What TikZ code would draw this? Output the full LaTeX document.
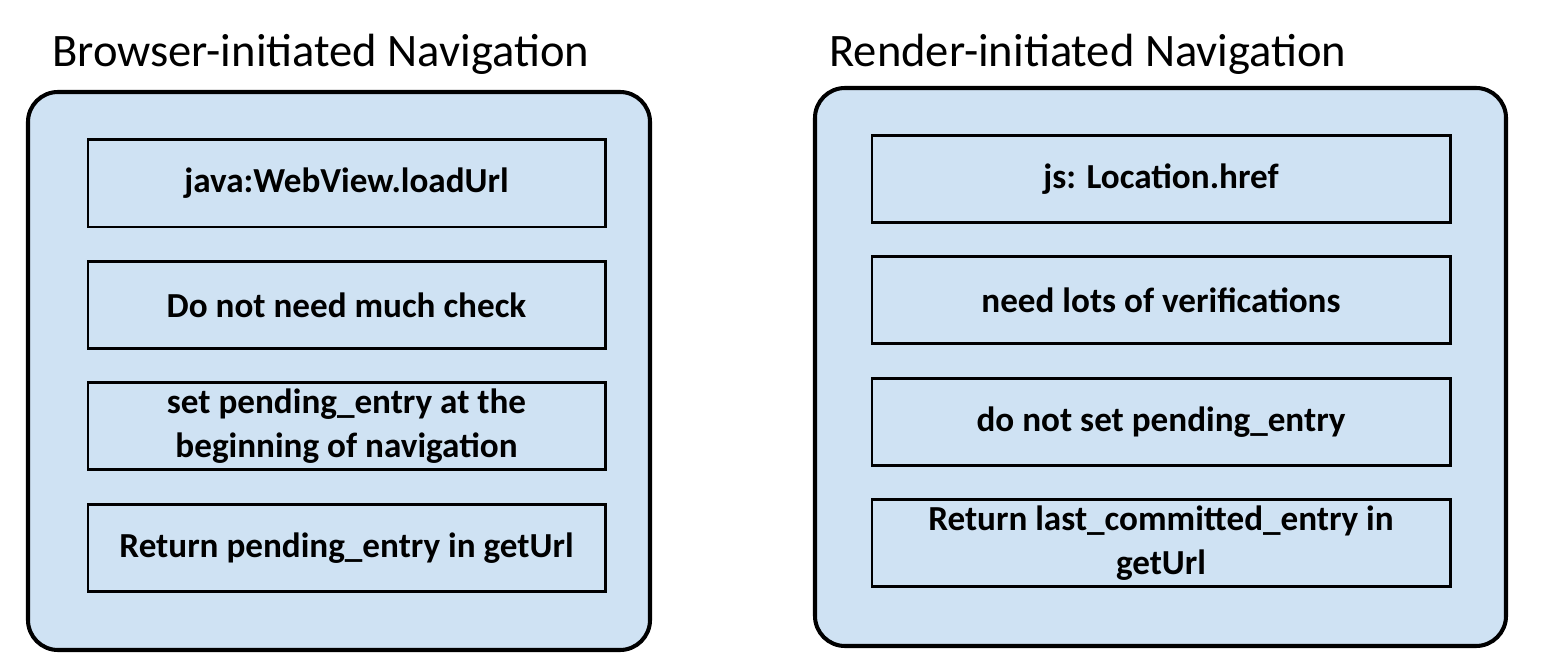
\documentclass[tikz,border=0pt]{standalone}
\usepackage{fontspec}
\setmainfont{Carlito}
\usetikzlibrary{positioning}
\definecolor{navblue}{RGB}{207,226,243}

\begin{document}
\begin{tikzpicture}[x=0.2mm, y=-0.2mm,
    panel/.style={rectangle, rounded corners=6mm, draw, line width=2.3pt, fill=navblue},
    item/.style={rectangle, draw, line width=1.7pt, fill=navblue, minimum height=17.4mm, font=\fontsize{20}{25}\selectfont\bfseries, align=center},
    title/.style={font=\fontsize{26.5}{31}\selectfont, anchor=base west, inner sep=0pt},
    node distance=6.3mm
]
  \useasboundingbox (0,0) rectangle (1543,664);
  % browser side
  \node[title] (btitle) at (52,67) {Browser-initiated Navigation};
  \node[panel, minimum width=124.4mm, minimum height=111.6mm] (browser) at (339,371) {};
  \node[item, minimum width=103.4mm] (load) at (346.5,183.5) {java:WebView.loadUrl};
  \node[item, minimum width=103.4mm, below=of load] (check) {Do not need much check};
  \node[item, minimum width=103.4mm, below=of check] (setpe) {set pending\_entry at the\\beginning of navigation};
  \node[item, minimum width=103.4mm, below=of setpe] (retpe) {Return pending\_entry in getUrl};
  % render side
  \node[title] (rtitle) at (829,67) {Render-initiated Navigation};
  \node[panel, minimum width=138.2mm, minimum height=111.6mm] (render) at (1160.5,367) {};
  \node[item, minimum width=115.6mm] (href) at (1161,179) {js: Location.href};
  \node[item, minimum width=115.6mm, below=of href] (verify) {need lots of verifications};
  \node[item, minimum width=115.6mm, below=of verify] (nope) {do not set pending\_entry};
  \node[item, minimum width=115.6mm, below=of nope] (retlc) {Return last\_committed\_entry in\\getUrl};
\end{tikzpicture}
\end{document}
